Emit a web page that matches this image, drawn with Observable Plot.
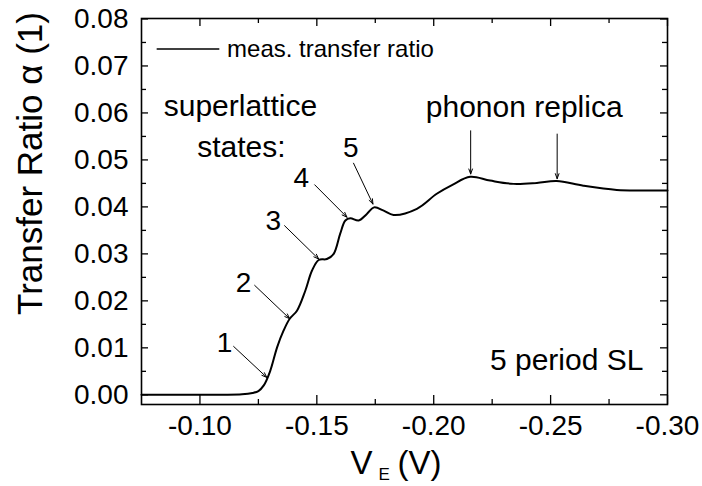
<!DOCTYPE html>
<html>
<head>
<meta charset="utf-8">
<script src="https://cdn.jsdelivr.net/npm/d3@7"></script>
<script src="https://cdn.jsdelivr.net/npm/@observablehq/plot@0.6"></script>
<style>
  html, body { margin: 0; padding: 0; background: #fff; overflow: hidden; }
  #chart { width: 702px; height: 486px; }
</style>
</head>
<body>
<div id="chart"></div>
<script>
// ---- data ----
const vE = [-0.075, -0.095, -0.110, -0.118, -0.1225, -0.1250, -0.1273, -0.1300, -0.1330, -0.1358,
  -0.1384, -0.1415, -0.1451, -0.1479, -0.1508, -0.1543, -0.1572, -0.1600, -0.1622, -0.1643,
  -0.1679, -0.1714, -0.1745, -0.1786, -0.1828, -0.1928, -0.2013, -0.2080, -0.2156, -0.2241,
  -0.2341, -0.2441, -0.2526, -0.2640, -0.2783, -0.2900, -0.3000];
const alpha = [0, 0, 0, 0.0001, 0.0004, 0.0008, 0.0020, 0.0050, 0.0101, 0.0137,
  0.0162, 0.0179, 0.0222, 0.0264, 0.0287, 0.0289, 0.0300, 0.0343, 0.0371, 0.0376,
  0.0371, 0.0385, 0.0399, 0.0392, 0.0383, 0.0396, 0.0428, 0.0447, 0.0464, 0.0456,
  0.0449, 0.0451, 0.0455, 0.0445, 0.0436, 0.0435, 0.0435];

const xMajor = [-0.10, -0.15, -0.20, -0.25, -0.30];
const xMinor = [-0.125, -0.175, -0.225, -0.275];
const yMajor = [0, 0.01, 0.02, 0.03, 0.04, 0.05, 0.06, 0.07, 0.08];
const yMinor = [0.005, 0.015, 0.025, 0.035, 0.045, 0.055, 0.065, 0.075];

// annotations (data units)
const arrowX1 = [-0.1144, -0.1234, -0.1362, -0.1491, -0.1657, -0.2158, -0.2528];
const arrowY1 = [0.0103, 0.0233, 0.0360, 0.0447, 0.0493, 0.0562, 0.0555];
const arrowX2 = [-0.1286, -0.1384, -0.1508, -0.1629, -0.1740, -0.2158, -0.2528];
const arrowY2 = [0.0037, 0.0162, 0.0289, 0.0378, 0.0406, 0.0470, 0.0460];

const stateLabels = ["1", "2", "3", "4", "5"];
const stateX = [-0.1105, -0.1186, -0.1314, -0.1434, -0.1645];
const stateY = [0.0091, 0.0218, 0.0350, 0.0442, 0.0507];

const legendLabel = "meas. transfer ratio";
const legendX = [-0.0817, -0.1085];
const legendY = 0.0736;

// ---- build ----
const curveData = vE.map((v, i) => ({v, a: alpha[i]}));
const arrows = arrowX1.map((x1, i) => ({x1, y1: arrowY1[i], x2: arrowX2[i], y2: arrowY2[i]}));
const states = stateLabels.map((t, i) => ({t, x: stateX[i], y: stateY[i]}));

const W = 702, H = 486, mL = 141, mR = 35, mT = 18, mB = 82;
const fw = W - mL - mR, fh = H - mT - mB;
const font = "'Liberation Sans', Arial, Helvetica, sans-serif";
const fmt = d => d.toFixed(2);

const chart = Plot.plot({
  width: W, height: H,
  marginLeft: mL, marginRight: mR, marginTop: mT, marginBottom: mB,
  style: {fontFamily: font, background: "#fff", overflow: "visible", color: "#000"},
  x: {domain: [-0.075, -0.30]},
  y: {domain: [-0.00206, 0.0801]},
  marks: [
    // ticks (inward, on all four sides)
    Plot.ruleX(xMajor, {x: d => d, insetTop: fh - 9, strokeWidth: 1.3}),
    Plot.ruleX(xMinor, {x: d => d, insetTop: fh - 5, strokeWidth: 1.3}),
    Plot.ruleX(xMajor, {x: d => d, insetBottom: fh - 8, strokeWidth: 1.3}),
    Plot.ruleX(xMinor, {x: d => d, insetBottom: fh - 5, strokeWidth: 1.3}),
    Plot.ruleY(yMajor, {y: d => d, insetRight: fw - 7, strokeWidth: 1.3}),
    Plot.ruleY(yMinor, {y: d => d, insetRight: fw - 5, strokeWidth: 1.3}),
    Plot.ruleY(yMajor, {y: d => d, insetLeft: fw - 7, strokeWidth: 1.3}),
    Plot.ruleY(yMinor, {y: d => d, insetLeft: fw - 5, strokeWidth: 1.3}),
    Plot.axisX({ticks: xMajor, tickSize: 0, tickPadding: 11, tickFormat: fmt, fontSize: 28, label: null}),
    Plot.axisY({ticks: yMajor, tickSize: 0, tickPadding: 13, tickFormat: fmt, fontSize: 28, label: null}),
    Plot.frame({stroke: "#000", strokeWidth: 1.6}),
    // data curve
    Plot.line(curveData, {x: "v", y: "a", curve: "catmull-rom", stroke: "#000", strokeWidth: 2}),
    // legend
    Plot.ruleY([legendY], {x1: legendX[0], x2: legendX[1], stroke: "#000", strokeWidth: 1.6}),
    Plot.text([legendLabel], {x: -0.1116, y: legendY, text: d => d, textAnchor: "start", lineAnchor: "middle", fontSize: 24}),
    // annotations
    Plot.arrow(arrows, {x1: "x1", y1: "y1", x2: "x2", y2: "y2", stroke: "#000", strokeWidth: 1, headLength: 8, headAngle: 40}),
    Plot.text(states, {x: "x", y: "y", text: "t", textAnchor: "middle", lineAnchor: "bottom", fontSize: 28}),
    Plot.text(["superlattice"], {x: -0.0845, y: 0.0594, text: d => d, textAnchor: "start", lineAnchor: "bottom", fontSize: 30}),
    Plot.text(["states:"], {x: -0.0988, y: 0.0507, text: d => d, textAnchor: "start", lineAnchor: "bottom", fontSize: 30}),
    Plot.text(["phonon replica"], {x: -0.2387, y: 0.0591, text: d => d, textAnchor: "middle", lineAnchor: "bottom", fontSize: 30}),
    Plot.text(["5 period SL"], {x: -0.2897, y: 0.0052, text: d => d, textAnchor: "end", lineAnchor: "bottom", fontSize: 30}),
    // axis titles
    Plot.text(["Transfer Ratio α (1)"], {frameAnchor: "left", text: d => d, rotate: -90, dx: -111, dy: -48, textAnchor: "middle", lineAnchor: "middle", fontSize: 35}),
    Plot.text(["V"], {frameAnchor: "bottom-left", text: d => d, dx: 209, dy: 69, textAnchor: "start", lineAnchor: "bottom", fontSize: 33}),
    Plot.text(["E"], {frameAnchor: "bottom-left", text: d => d, dx: 237, dy: 75, textAnchor: "start", lineAnchor: "bottom", fontSize: 17}),
    Plot.text(["(V)"], {frameAnchor: "bottom-left", text: d => d, dx: 256, dy: 69, textAnchor: "start", lineAnchor: "bottom", fontSize: 33})
  ]
});
document.getElementById("chart").appendChild(chart);
</script>
</body>
</html>
